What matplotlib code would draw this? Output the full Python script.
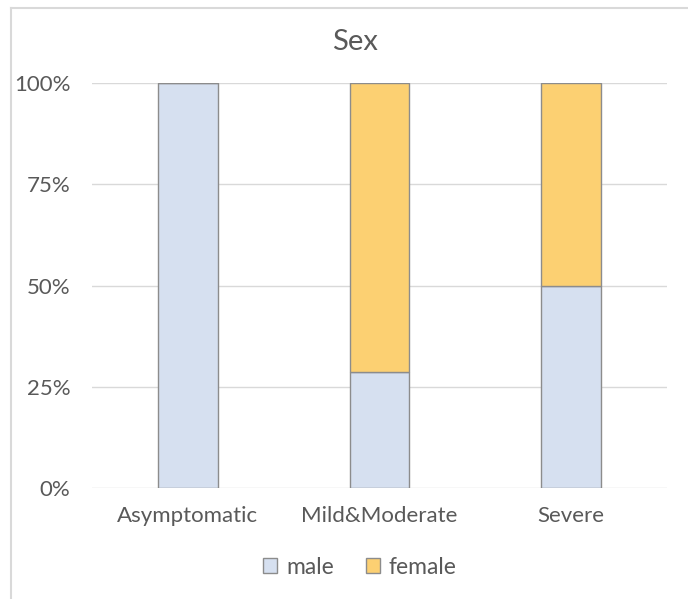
import matplotlib.pyplot as plt
from matplotlib.lines import Line2D
from matplotlib.ticker import PercentFormatter

plt.rcParams['font.family'] = ['Lato', 'DejaVu Sans']

categories = ['Asymptomatic', 'Mild&Moderate', 'Severe']
male = [100.0, 28.6, 50.0]
female = [0.0, 71.4, 50.0]

text_color = '#595959'
edge = '#8c8c8c'

fig = plt.figure(figsize=(6.88, 5.99), dpi=100)
ax = fig.add_axes([92 / 688, 1 - 488 / 599, 575 / 688, 405 / 599])

x = range(len(categories))
ax.bar(x, male, width=0.313, color='#d6e0f0', edgecolor=edge, linewidth=1, label='male', zorder=3)
ax.bar(x, female, width=0.313, bottom=male, color='#fcd072', edgecolor=edge, linewidth=1, label='female', zorder=3)

ax.set_xlim(-0.5, 2.5)
ax.set_ylim(0, 100)
ax.set_yticks([0, 25, 50, 75, 100])
ax.yaxis.set_major_formatter(PercentFormatter(decimals=0))
ax.set_xticks(list(x))
ax.set_xticklabels(categories)
ax.grid(axis='y', color='#d9d9d9', linewidth=1, zorder=0)
for s in ax.spines.values():
    s.set_visible(False)
ax.tick_params(length=0, labelsize=16, colors=text_color)
ax.tick_params(axis='y', pad=15.5)
ax.tick_params(axis='x', pad=13)

fig.text(355 / 688, 1 - 42 / 599, 'Sex', ha='center', va='center', fontsize=21, color=text_color)

leg = ax.legend(loc='center', bbox_to_anchor=(360 / 688, 1 - 567 / 599), bbox_transform=fig.transFigure,
                ncol=2, frameon=False, fontsize=16.5, handlelength=0.6, handleheight=0.6,
                handletextpad=0.4, columnspacing=1.4)
for t in leg.get_texts():
    t.set_color(text_color)

# thin outer frame (top and left edges)
fig.add_artist(Line2D([11 / 688, 11 / 688], [0, 1 - 8 / 599], transform=fig.transFigure, color='#d9d9d9', linewidth=1.5))
fig.add_artist(Line2D([11 / 688, 1], [1 - 8 / 599, 1 - 8 / 599], transform=fig.transFigure, color='#d9d9d9', linewidth=1.5))

fig.savefig('out.png', dpi=100)
